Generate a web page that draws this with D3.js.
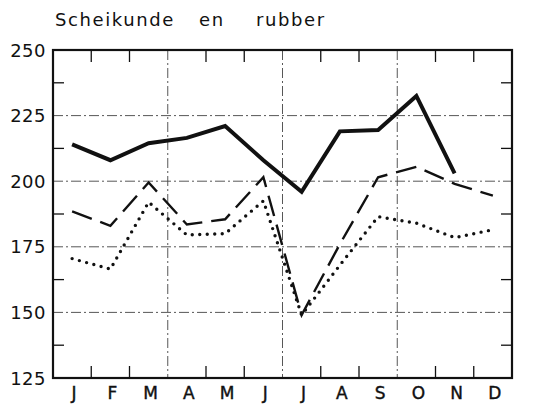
<!DOCTYPE html>
<html>
<head>
<meta charset="utf-8">
<script src="https://cdn.jsdelivr.net/npm/d3@7"></script>
<style>
  body { margin: 0; background: #fff; }
  svg { display: block; }
  text { font-family: "DejaVu Sans", sans-serif; fill: #111; }
</style>
</head>
<body>
<svg id="chart" width="538" height="406"></svg>
<script>
// data
const months = ["J", "F", "M", "A", "M", "J", "J", "A", "S", "O", "N", "D"];
const yTicks = [125, 150, 175, 200, 225, 250];
const solidSeries = [214, 208, 214.5, 216.5, 221, 208, 196, 219, 219.5, 232.5, 203, null];
const dashedSeries = [188.5, 183, 199.5, 183.5, 185.5, 201.5, 149, 176, 201.5, 205.5, 199, 194.5];
const dottedSeries = [170.5, 166.5, 192, 179.5, 180, 192.5, 149, 168, 186.5, 184, 178.5, 181.5];

const margin = {top: 50, right: 26, bottom: 28, left: 53};
const W = 538, H = 406;
const svg = d3.select("#chart");

const x = d3.scaleBand()
  .domain(d3.range(months.length))
  .range([margin.left, W - margin.right])
  .padding(0);

const y = d3.scaleLinear()
  .domain([125, 250])
  .range([H - margin.bottom, margin.top]);

const cx = i => x(i) + x.bandwidth() / 2;

// title
const title = svg.append("text")
  .attr("y", 26)
  .style("font-size", "18px")
  .style("letter-spacing", "1.6px");
title.append("tspan").attr("x", 55).text("Scheikunde");
title.append("tspan").attr("x", 199).text("en");
title.append("tspan").attr("x", 256).text("rubber");

// dash-dot grid
const grid = svg.append("g")
  .attr("stroke", "#444")
  .attr("stroke-width", 0.9)
  .attr("stroke-dasharray", "10,3,2,3");

grid.selectAll(".hg")
  .data(yTicks.filter(v => v > 125 && v < 250))
  .enter().append("line")
  .attr("x1", margin.left).attr("x2", W - margin.right)
  .attr("y1", d => y(d)).attr("y2", d => y(d));

grid.selectAll(".vg")
  .data([3, 6, 9])
  .enter().append("line")
  .attr("x1", d => x(d)).attr("x2", d => x(d))
  .attr("y1", margin.top).attr("y2", H - margin.bottom);

// minor ticks, inward
const ticks = svg.append("g").attr("stroke", "#111").attr("stroke-width", 1.3);
const halfTicks = d3.range(137.5, 250, 25);
ticks.selectAll(".tl").data(halfTicks).enter().append("line")
  .attr("x1", margin.left).attr("x2", margin.left + 11)
  .attr("y1", d => y(d)).attr("y2", d => y(d));
ticks.selectAll(".tr").data(halfTicks).enter().append("line")
  .attr("x1", W - margin.right - 11).attr("x2", W - margin.right)
  .attr("y1", d => y(d)).attr("y2", d => y(d));

const monthEdges = d3.range(1, months.length).filter(i => i % 3 !== 0);
ticks.selectAll(".tt").data(monthEdges).enter().append("line")
  .attr("x1", d => x(d)).attr("x2", d => x(d))
  .attr("y1", margin.top).attr("y2", margin.top + 12);
ticks.selectAll(".tb").data(monthEdges).enter().append("line")
  .attr("x1", d => x(d)).attr("x2", d => x(d))
  .attr("y1", H - margin.bottom - 12).attr("y2", H - margin.bottom);

// frame
svg.append("rect")
  .attr("x", margin.left).attr("y", margin.top)
  .attr("width", W - margin.left - margin.right)
  .attr("height", H - margin.top - margin.bottom)
  .attr("fill", "none")
  .attr("stroke", "#111")
  .attr("stroke-width", 2.2);

// y labels
svg.selectAll(".ylab")
  .data(yTicks)
  .enter().append("text")
  .attr("x", 46)
  .attr("y", d => y(d) + 6.5)
  .attr("text-anchor", "end")
  .style("font-size", "18px")
  .style("letter-spacing", "0.5px")
  .text(d => d);

// month labels
svg.selectAll(".mlab")
  .data(months)
  .enter().append("text")
  .attr("x", (d, i) => cx(i) + 2)
  .attr("y", 399)
  .attr("text-anchor", "middle")
  .style("font-size", "17px")
  .style("stroke", "#111")
  .style("stroke-width", 0.4)
  .text(d => d);

// lines
const line = d3.line()
  .defined(d => d != null)
  .x((d, i) => cx(i))
  .y(d => y(d));

svg.append("path")
  .datum(dottedSeries)
  .attr("d", line)
  .attr("fill", "none")
  .attr("stroke", "#111")
  .attr("stroke-width", 3.4)
  .attr("stroke-linecap", "round")
  .attr("stroke-dasharray", "0,7.5");

svg.append("path")
  .datum(dashedSeries)
  .attr("d", line)
  .attr("fill", "none")
  .attr("stroke", "#111")
  .attr("stroke-width", 2.4)
  .attr("stroke-dasharray", "21,9");

svg.append("path")
  .datum(solidSeries)
  .attr("d", line)
  .attr("fill", "none")
  .attr("stroke", "#111")
  .attr("stroke-width", 4)
  .attr("stroke-linejoin", "miter");
</script>
</body>
</html>
